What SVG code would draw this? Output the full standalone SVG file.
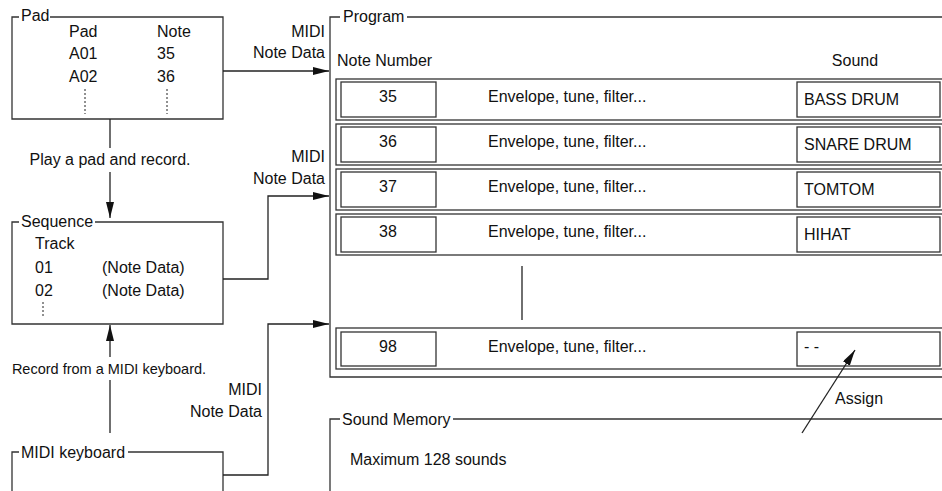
<svg xmlns="http://www.w3.org/2000/svg" width="942" height="491" viewBox="0 0 942 491">
<style>
text{font-family:"Liberation Sans",Arial,sans-serif;font-size:16px;fill:#111}
.sm{font-size:14.5px}
.r{text-anchor:end}
.m{text-anchor:middle}
.box{fill:none;stroke:#333;stroke-width:1.3}
.ln{fill:none;stroke:#222;stroke-width:1.3}
.dot{fill:none;stroke:#222;stroke-width:1;stroke-dasharray:2,2}
</style>
<defs>
<marker id="ah" markerUnits="userSpaceOnUse" markerWidth="17" markerHeight="10" refX="16" refY="4" orient="auto">
<path d="M0,0 L16,4 L0,8 z" fill="#111"/>
</marker>
</defs>
<rect width="942" height="491" fill="#fff"/>

<g id="pad">
<path class="box" d="M19,17 H12 V119 H223 V17 H50"/>
<text x="21" y="21">Pad</text>
<text x="69" y="37">Pad</text>
<text x="157" y="37">Note</text>
<text x="69" y="59">A01</text>
<text x="157" y="59">35</text>
<text x="69" y="82">A02</text>
<text x="157" y="82">36</text>
<path class="dot" d="M85,89 V114 M167,89 V114"/>
</g>

<g id="sequence">
<path class="box" d="M19,222 H12 V324 H223 V222 H95"/>
<text x="21" y="227">Sequence</text>
<text x="35" y="249">Track</text>
<text x="35" y="273">01</text>
<text x="102" y="273">(Note Data)</text>
<text x="35" y="296">02</text>
<text x="102" y="296">(Note Data)</text>
<path class="dot" d="M43,302 V316"/>
</g>

<g id="midi-keyboard">
<path class="box" d="M19,452 H12 V492 M223,492 V452 H128"/>
<text x="21" y="458">MIDI keyboard</text>
</g>

<g id="program">
<path class="box" d="M340,17 H330 V377 H943 M943,17 H407"/>
<text x="343" y="22">Program</text>
<text x="337" y="66">Note Number</text>
<text x="855" y="66" class="m">Sound</text>

<g id="row35">
<rect class="box" x="336" y="79" width="607" height="41"/>
<rect class="box" x="341" y="82" width="95" height="35"/>
<rect class="box" x="797" y="82" width="143" height="35"/>
<text x="388" y="102" class="m">35</text>
<text x="488" y="102">Envelope, tune, filter...</text>
<text x="804" y="105">BASS DRUM</text>
</g>
<g id="row36">
<rect class="box" x="336" y="124" width="607" height="41"/>
<rect class="box" x="341" y="127" width="95" height="35"/>
<rect class="box" x="797" y="127" width="143" height="35"/>
<text x="388" y="147" class="m">36</text>
<text x="488" y="147">Envelope, tune, filter...</text>
<text x="804" y="150">SNARE DRUM</text>
</g>
<g id="row37">
<rect class="box" x="336" y="169" width="607" height="41"/>
<rect class="box" x="341" y="172" width="95" height="35"/>
<rect class="box" x="797" y="172" width="143" height="35"/>
<text x="388" y="192" class="m">37</text>
<text x="488" y="192">Envelope, tune, filter...</text>
<text x="804" y="195">TOMTOM</text>
</g>
<g id="row38">
<rect class="box" x="336" y="214" width="607" height="41"/>
<rect class="box" x="341" y="217" width="95" height="35"/>
<rect class="box" x="797" y="217" width="143" height="35"/>
<text x="388" y="237" class="m">38</text>
<text x="488" y="237">Envelope, tune, filter...</text>
<text x="804" y="240">HIHAT</text>
</g>
<path class="ln" d="M522,266 V320" stroke="#555"/>
<g id="row98">
<rect class="box" x="336" y="328" width="607" height="41"/>
<rect class="box" x="341" y="332" width="95" height="34"/>
<rect class="box" x="797" y="332" width="143" height="34"/>
<text x="388" y="352" class="m">98</text>
<text x="488" y="352">Envelope, tune, filter...</text>
<text x="804" y="352">- -</text>
</g>
</g>

<g id="sound-memory">
<path class="box" d="M340,419 H330 V492 M943,419 H453"/>
<text x="342" y="425">Sound Memory</text>
<text x="350" y="465">Maximum 128 sounds</text>
</g>

<g id="connectors">
<path class="ln" d="M223,71 H329" marker-end="url(#ah)"/>
<text x="325" y="37" class="r">MIDI</text>
<text x="325" y="58" class="r">Note Data</text>

<path class="ln" d="M223,279 H268 V196 H329" marker-end="url(#ah)"/>
<text x="325" y="162" class="r">MIDI</text>
<text x="325" y="184" class="r">Note Data</text>

<path class="ln" d="M223,475 H268 V324 H329" marker-end="url(#ah)"/>
<text x="262" y="395" class="r">MIDI</text>
<text x="262" y="417" class="r">Note Data</text>

<path class="ln" d="M110,119 V148"/>
<text x="110" y="165" class="m">Play a pad and record.</text>
<path class="ln" d="M110,172 V218" marker-end="url(#ah)"/>

<path class="ln" d="M110,433 V380"/>
<text x="109" y="374" class="m sm">Record from a MIDI keyboard.</text>
<path class="ln" d="M110,357 V325" marker-end="url(#ah)"/>

<path class="ln" d="M802,433 L855,350" marker-end="url(#ah)"/>
<text x="835" y="404">Assign</text>
</g>
</svg>
